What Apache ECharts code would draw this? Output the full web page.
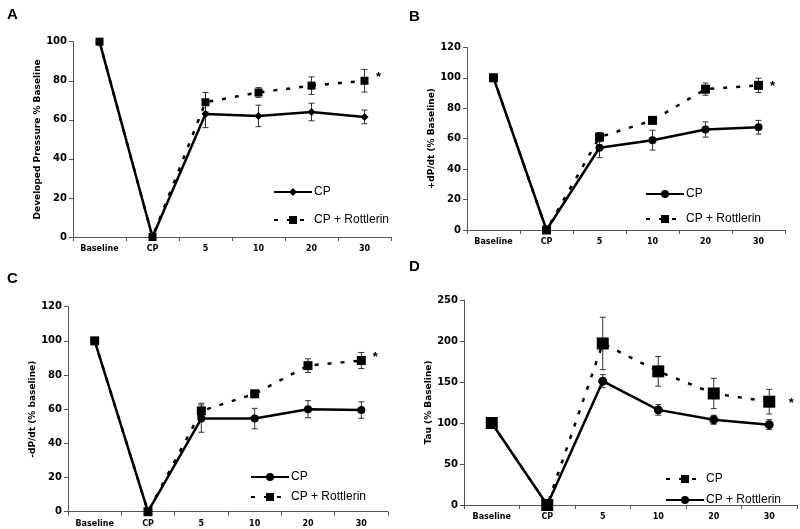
<!DOCTYPE html>
<html><head><meta charset="utf-8">
<script src="https://cdn.jsdelivr.net/npm/echarts@6/dist/echarts.min.js"></script>
<style>html,body{margin:0;padding:0;background:#fff}#c{width:800px;height:529px}</style>
</head><body><div id="c"></div>
<script>
const categories = ['Baseline', 'CP', '5', '10', '20', '30'];
const panelLetters = ['A', 'B', 'C', 'D'];
const yNames = ['Developed Pressure % Baseline', '+dP/dt (% Baseline)', '-dP/dt (% baseline)', 'Tau (% Baseline)'];
const yMax = [100, 120, 120, 250];
const yStep = [20, 20, 20, 50];

// Panel A
const aCP = [100, 0, 63, 62, 64, 61.5];
const aCPErr = [0, 0, 7, 5.5, 4.5, 3.5];
const aRot = [100, 0, 69, 74, 77.5, 80];
const aRotErr = [0, 0, 5, 2.5, 4.5, 5.8];
// Panel B
const bCP = [100, 0, 54, 59, 66, 67.5];
const bCPErr = [0, 0, 6.5, 6.5, 5, 4.5];
const bRot = [100, 0, 61, 72, 92.5, 95];
const bRotErr = [0, 0, 3, 2, 4, 4.7];
// Panel C
const cCP = [100, 0, 54.5, 54.5, 60, 59.5];
const cCPErr = [0, 0, 8, 6, 5, 4.8];
const cRot = [100, 0, 59, 69, 85.5, 88.5];
const cRotErr = [0, 0, 4.5, 2, 4, 4.7];
// Panel D (dashed squares = "CP", solid circles = "CP + Rottlerin")
const dCP = [100, 0, 197, 163, 136, 126];
const dCPErr = [0, 0, 32, 18, 18.5, 15];
const dRot = [100, 0, 151, 116, 104, 98];
const dRotErr = [0, 0, 8, 6.5, 5.5, 6];

const asteriskY = [83, 96.5, 92, 128];

const grids = [
  {left: 73, top: 41.7, width: 318, height: 195.3},
  {left: 467, top: 47.3, width: 318, height: 182.7},
  {left: 68, top: 306.7, width: 320, height: 205},
  {left: 464, top: 300, width: 333, height: 205}
];

const panels = [
  {solid: {name: 'CP', data: aCP, err: aCPErr, symbol: 'diamond', size: 8},
   dashed: {name: 'CP + Rottlerin', data: aRot, err: aRotErr, symbol: 'rect', size: 8},
   order: ['solid', 'dashed'], legend: {left: 273, top: 181, itemGap: 16}},
  {solid: {name: 'CP', data: bCP, err: bCPErr, symbol: 'circle', size: 8},
   dashed: {name: 'CP + Rottlerin', data: bRot, err: bRotErr, symbol: 'rect', size: 9},
   order: ['solid', 'dashed'], legend: {left: 645, top: 183, itemGap: 13}},
  {solid: {name: 'CP', data: cCP, err: cCPErr, symbol: 'circle', size: 8},
   dashed: {name: 'CP + Rottlerin', data: cRot, err: cRotErr, symbol: 'rect', size: 9},
   order: ['solid', 'dashed'], legend: {left: 250, top: 466, itemGap: 8}},
  {solid: {name: 'CP + Rottlerin', data: dRot, err: dRotErr, symbol: 'circle', size: 9},
   dashed: {name: 'CP', data: dCP, err: dCPErr, symbol: 'rect', size: 12},
   order: ['dashed', 'solid'], legend: {left: 665, top: 468, itemGap: 9}}
];

const tickFont = 'DejaVu Sans';
const option = {
  animation: false,
  backgroundColor: '#fff',
  title: panelLetters.map((t, i) => ({
    text: t,
    left: [2, 404, 2, 404][i],
    top: [2, 4, 266, 254][i],
    textStyle: {fontSize: 15, fontWeight: 'bold', fontFamily: 'Liberation Sans', color: '#000'}
  })),
  grid: grids,
  xAxis: grids.map((g, i) => ({
    type: 'category', gridIndex: i, data: categories, boundaryGap: true,
    axisLine: {lineStyle: {color: '#555', width: 1}},
    axisTick: {show: true, length: 4, lineStyle: {color: '#555'}},
    axisLabel: {fontSize: 8, fontWeight: 'bold', fontFamily: tickFont, color: '#000', margin: 8}
  })),
  yAxis: grids.map((g, i) => ({
    type: 'value', gridIndex: i, min: 0, max: yMax[i], interval: yStep[i],
    name: yNames[i], nameLocation: 'middle', nameRotate: 90, nameGap: 30,
    nameTextStyle: {fontSize: 9, fontWeight: 'bold', fontFamily: tickFont, color: '#000'},
    splitLine: {show: false},
    axisLine: {show: true, lineStyle: {color: '#555', width: 1}},
    axisTick: {show: true, length: 4, lineStyle: {color: '#555'}},
    axisLabel: {fontSize: 10, fontWeight: 'bold', fontFamily: tickFont, color: '#000', margin: 6}
  })),
  legend: panels.map((p, i) => ({
    orient: 'vertical', left: p.legend.left, top: p.legend.top, itemGap: p.legend.itemGap,
    padding: [5, 5, 5, 0],
    itemWidth: 38, itemHeight: 10,
    data: p.order.map(k => 'P' + i + '|' + p[k].name),
    formatter: n => n.split('|')[1],
    textStyle: {fontSize: 12, fontFamily: 'Liberation Sans', color: '#000', padding: [0, 0, 0, -3]},
    selectedMode: false
  })),
  series: []
};

function errSeries(i, vals, errs) {
  return {
    type: 'custom', xAxisIndex: i, yAxisIndex: i, z: 1, silent: true,
    data: vals.map((v, j) => [j, v - errs[j], v + errs[j]]).filter((d, j) => errs[j] > 0),
    renderItem: (params, api) => {
      const lo = api.coord([api.value(0), api.value(1)]);
      const hi = api.coord([api.value(0), api.value(2)]);
      const w = 3;
      const st = {stroke: '#333', lineWidth: 1};
      return {type: 'group', children: [
        {type: 'line', shape: {x1: lo[0], y1: lo[1], x2: hi[0], y2: hi[1]}, style: st},
        {type: 'line', shape: {x1: lo[0] - w, y1: lo[1], x2: lo[0] + w, y2: lo[1]}, style: st},
        {type: 'line', shape: {x1: hi[0] - w, y1: hi[1], x2: hi[0] + w, y2: hi[1]}, style: st}
      ]};
    }
  };
}

panels.forEach((p, i) => {
  option.series.push(errSeries(i, p.solid.data, p.solid.err));
  option.series.push(errSeries(i, p.dashed.data, p.dashed.err));
  option.series.push({
    type: 'line', name: 'P' + i + '|' + p.solid.name, xAxisIndex: i, yAxisIndex: i, z: 2,
    data: p.solid.data, symbol: p.solid.symbol, symbolSize: p.solid.size, showSymbol: true,
    lineStyle: {color: '#000', width: 2.5},
    itemStyle: {color: '#000'}
  });
  option.series.push({
    type: 'line', name: 'P' + i + '|' + p.dashed.name, xAxisIndex: i, yAxisIndex: i, z: 3,
    data: p.dashed.data, symbol: p.dashed.symbol, symbolSize: p.dashed.size, showSymbol: true,
    lineStyle: {color: '#000', width: 2.5, type: [4, 9]},
    itemStyle: {color: '#000'},
    markPoint: {
      symbol: 'circle', symbolSize: 1, itemStyle: {color: 'rgba(0,0,0,0)'},
      data: [{coord: [5, asteriskY[i]]}],
      label: {show: true, formatter: '*', offset: [i === 3 ? 22 : 14, 3], fontSize: 13, fontWeight: 'bold', color: '#000', fontFamily: 'Liberation Sans'}
    }
  });
});

const chart = echarts.init(document.getElementById('c'), null, {renderer: 'canvas'});
chart.setOption(option);
</script>
</body></html>
